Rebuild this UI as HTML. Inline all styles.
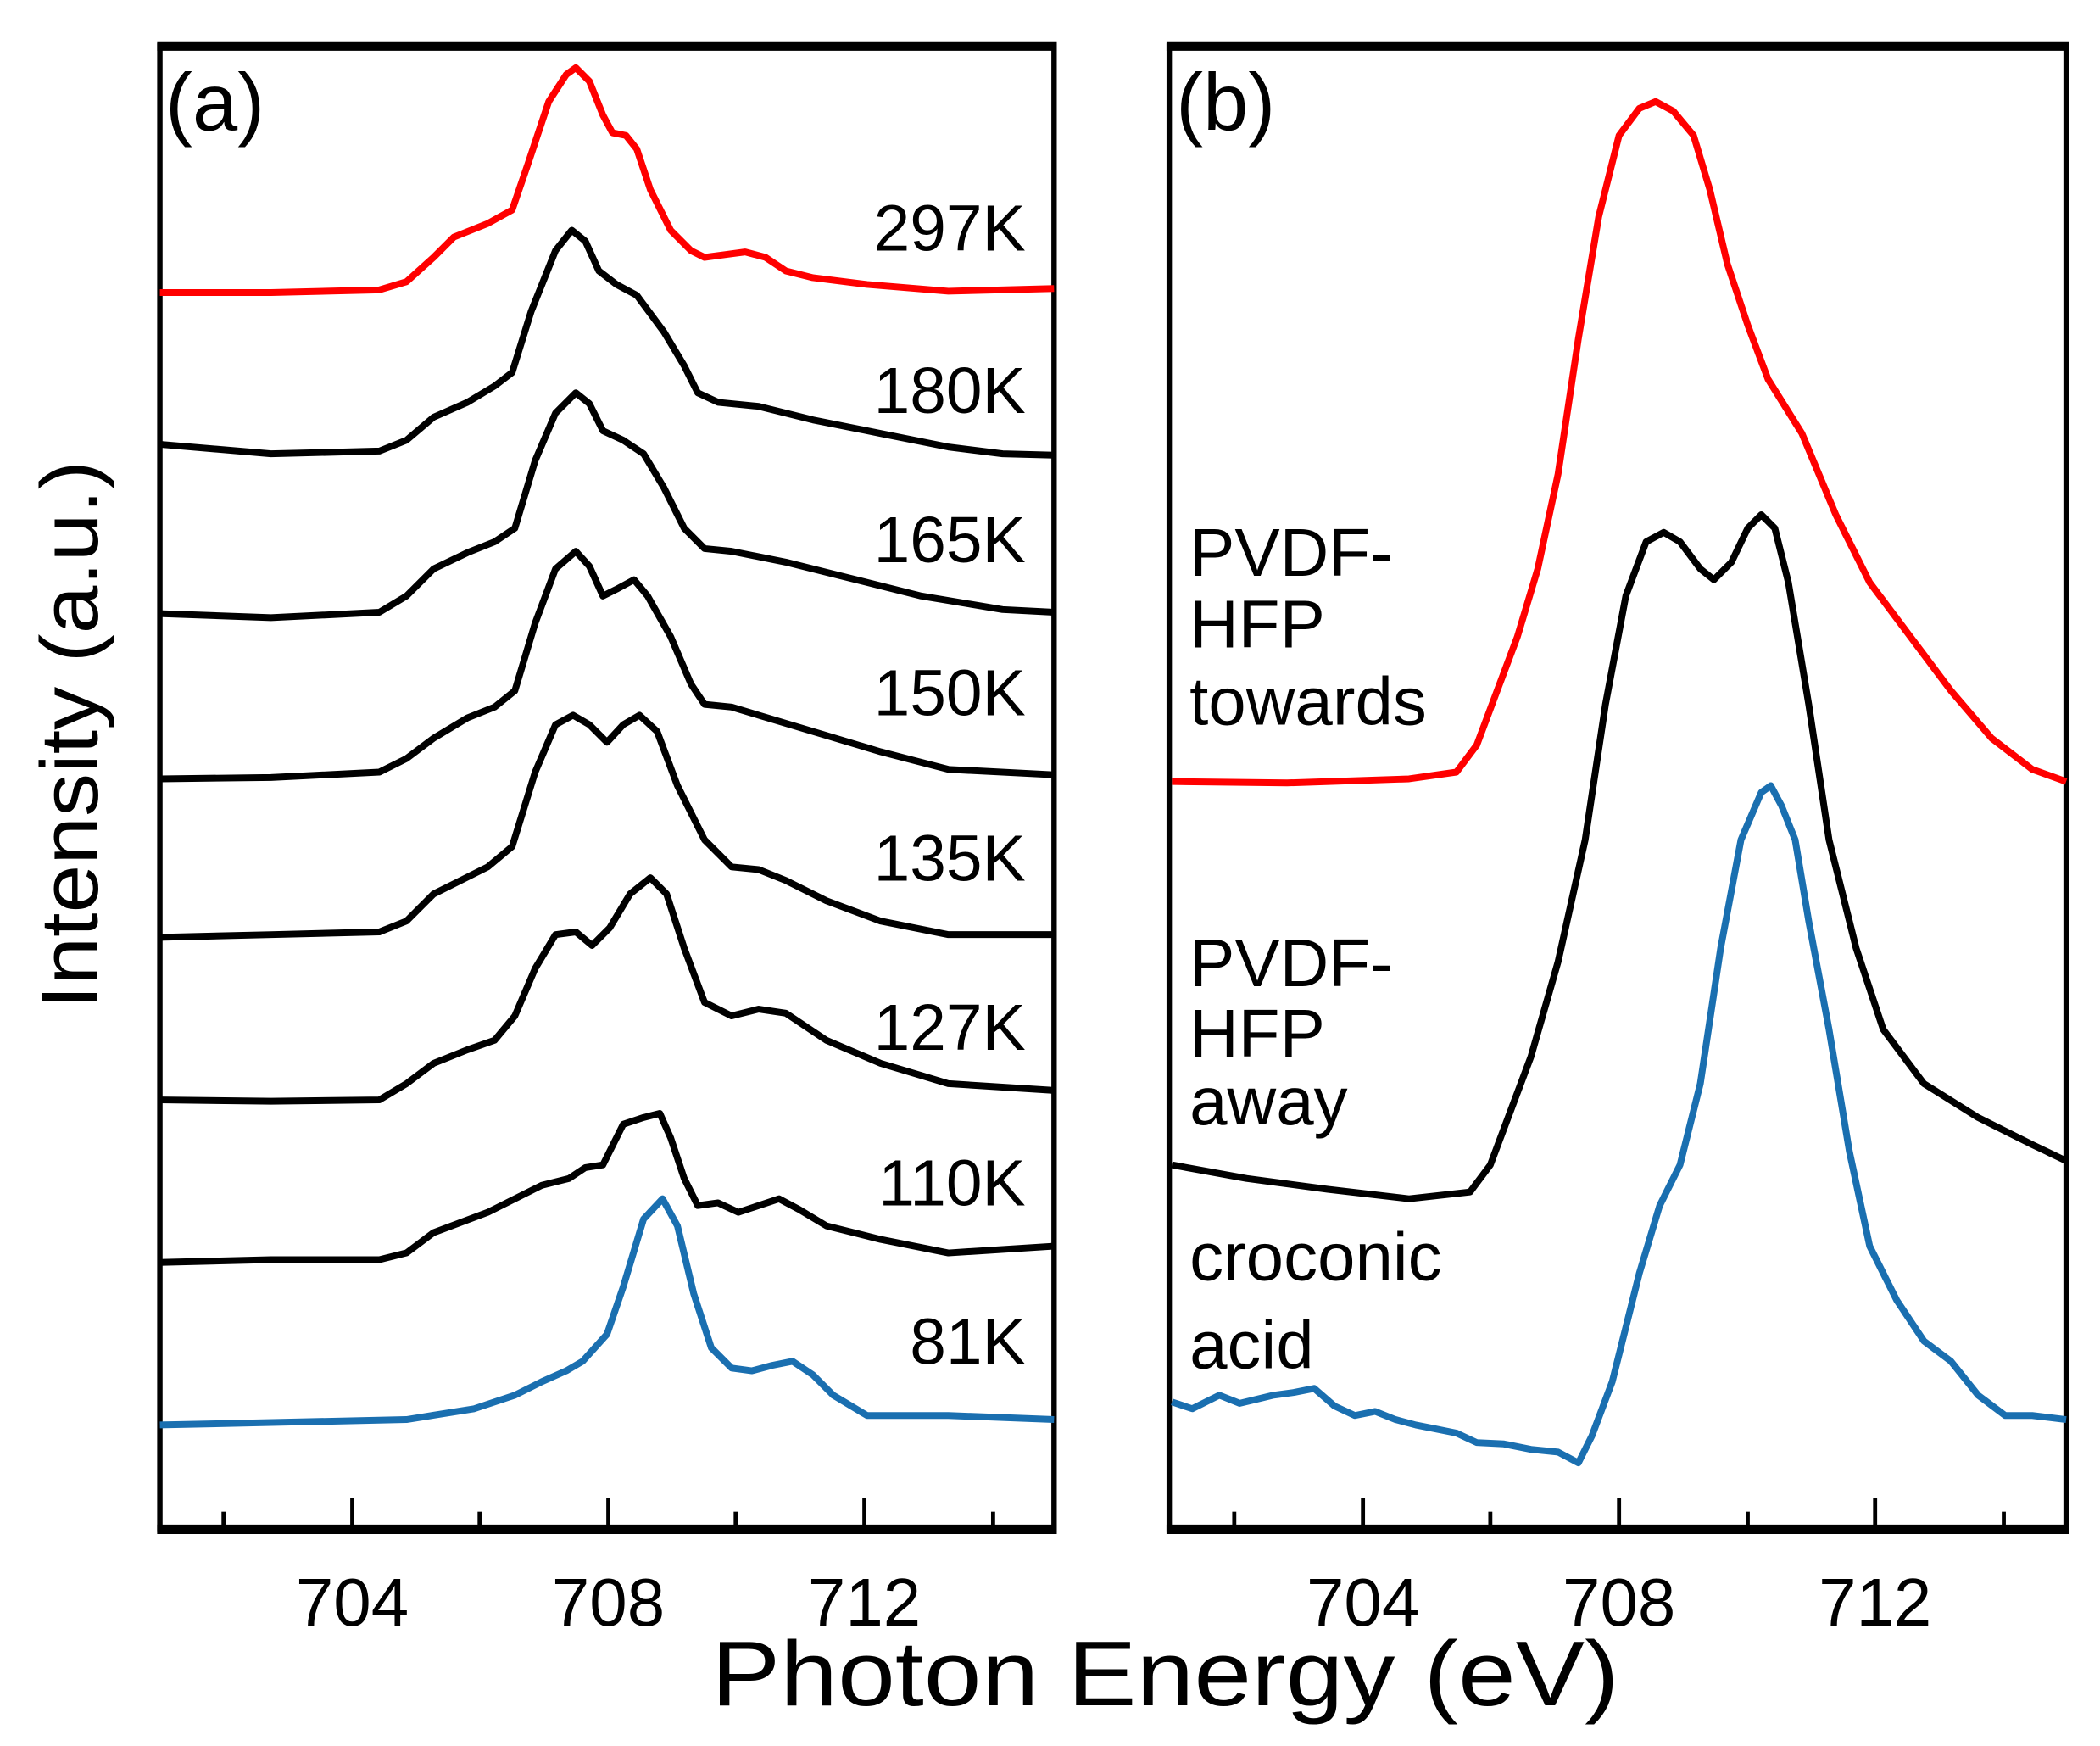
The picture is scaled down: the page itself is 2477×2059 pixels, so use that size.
<!DOCTYPE html>
<html><head><meta charset="utf-8"><style>
html,body{margin:0;padding:0;background:#fff}
svg{display:block}
text{font-family:"Liberation Sans",Arial,sans-serif;fill:#000}
</style></head><body>
<svg width="2477" height="2059" viewBox="0 0 1550 1289" preserveAspectRatio="none" xmlns="http://www.w3.org/2000/svg">
<g fill="none" stroke="#000" stroke-width="4">
<rect x="118" y="34" width="660" height="1095"/>
<rect x="863" y="34" width="662" height="1095"/>
</g>
<g stroke="#000" stroke-width="7">
<line x1="116" y1="34" x2="780" y2="34"/><line x1="116" y1="1129" x2="780" y2="1129"/>
<line x1="861" y1="34" x2="1527" y2="34"/><line x1="861" y1="1129" x2="1527" y2="1129"/>
</g>
<g stroke="#000" stroke-width="3">
<line x1="260" y1="1129" x2="260" y2="1106"/><line x1="449" y1="1129" x2="449" y2="1106"/><line x1="638" y1="1129" x2="638" y2="1106"/>
<line x1="165" y1="1129" x2="165" y2="1116"/><line x1="354" y1="1129" x2="354" y2="1116"/><line x1="543" y1="1129" x2="543" y2="1116"/><line x1="733" y1="1129" x2="733" y2="1116"/>
<line x1="1006" y1="1129" x2="1006" y2="1106"/><line x1="1195" y1="1129" x2="1195" y2="1106"/><line x1="1384" y1="1129" x2="1384" y2="1106"/>
<line x1="911" y1="1129" x2="911" y2="1116"/><line x1="1100" y1="1129" x2="1100" y2="1116"/><line x1="1290" y1="1129" x2="1290" y2="1116"/><line x1="1479" y1="1129" x2="1479" y2="1116"/>
</g>
<g font-size="50" text-anchor="middle">
<text x="260" y="1200">704</text><text x="449" y="1200">708</text><text x="638" y="1200">712</text>
<text x="1006" y="1200">704</text><text x="1195" y="1200">708</text><text x="1384" y="1200">712</text>
</g>
<text x="525" y="1259" font-size="68" textLength="670" lengthAdjust="spacingAndGlyphs">Photon Energy (eV)</text>
<text transform="translate(72,745) rotate(-90)" font-size="60" textLength="405" lengthAdjust="spacingAndGlyphs">Intensity (a.u.)</text>
<text x="122" y="96" font-size="60">(a)</text>
<text x="868" y="96" font-size="60">(b)</text>
<g font-size="48" text-anchor="end">
<text x="757" y="185">297K</text><text x="757" y="305">180K</text><text x="757" y="415">165K</text><text x="757" y="528">150K</text>
<text x="757" y="650">135K</text><text x="757" y="775">127K</text><text x="757" y="890">110K</text><text x="757" y="1007">81K</text>
</g>
<g font-size="50">
<text x="878" y="425">PVDF-</text><text x="878" y="478">HFP</text><text x="878" y="535">towards</text>
<text x="878" y="728">PVDF-</text><text x="878" y="780">HFP</text><text x="878" y="830">away</text>
<text x="878" y="945">croconic</text><text x="878" y="1010">acid</text>
</g>
<g fill="none" stroke-width="5" stroke-linejoin="round">
<polyline stroke="#ff0000" points="118,216 200,216 280,214 300,208 320,190 335,175 360,165 378,155 390,120 405,75 418,55 425,50 435,60 445,85 452,98 462,100 470,110 480,140 495,170 510,185 520,190 535,188 550,186 565,190 580,200 600,205 640,210 700,215 778,213"/>
<polyline stroke="#000" points="118,328 200,335 280,333 300,325 320,308 345,297 365,285 378,275 392,230 410,185 422,170 432,178 442,200 455,210 470,218 490,245 505,270 515,290 530,297 560,300 600,310 650,320 700,330 740,335 778,336"/>
<polyline stroke="#000" points="118,453 200,456 280,452 300,440 320,420 345,408 365,400 380,390 395,340 410,305 425,290 435,298 445,318 460,325 475,335 490,360 505,390 520,405 540,407 580,415 620,425 680,440 740,450 778,452"/>
<polyline stroke="#000" points="118,575 200,574 280,570 300,560 320,545 345,530 365,522 380,510 395,460 410,420 425,407 435,418 445,440 455,435 468,428 478,440 495,470 510,505 520,520 540,522 560,528 600,540 650,555 700,568 778,572"/>
<polyline stroke="#000" points="118,692 200,690 280,688 300,680 320,660 340,650 360,640 378,625 395,570 410,535 423,528 435,535 448,548 460,535 472,528 485,540 500,580 520,620 540,640 560,642 580,650 610,665 650,680 700,690 778,690"/>
<polyline stroke="#000" points="118,812 200,813 280,812 300,800 320,785 345,775 365,768 380,750 395,715 410,690 425,688 437,698 450,685 465,660 480,648 492,660 505,700 520,740 540,750 560,745 580,748 610,768 650,785 700,800 778,805"/>
<polyline stroke="#000" points="118,932 200,930 280,930 300,925 320,910 360,895 380,885 400,875 420,870 432,862 445,860 460,830 475,825 487,822 495,840 505,870 515,890 530,888 545,895 560,890 575,885 590,893 610,905 650,915 700,925 778,920"/>
<polyline stroke="#1a6fb0" points="118,1052 300,1048 350,1040 380,1030 400,1020 418,1012 430,1005 448,985 460,950 475,900 489,885 500,905 512,955 525,995 540,1010 555,1012 570,1008 585,1005 600,1015 615,1030 640,1045 700,1045 778,1048"/>
<polyline stroke="#ff0000" points="865,577 950,578 1040,575 1075,570 1090,550 1105,510 1120,470 1135,420 1150,350 1165,250 1180,160 1195,100 1210,80 1222,75 1235,82 1250,100 1262,140 1275,195 1290,240 1305,280 1330,320 1355,380 1380,430 1410,470 1440,510 1470,545 1500,568 1525,577"/>
<polyline stroke="#000" points="865,860 920,870 980,878 1040,885 1085,880 1100,860 1115,820 1130,780 1150,710 1170,620 1185,520 1200,440 1215,400 1228,393 1240,400 1255,420 1265,428 1278,415 1290,390 1300,380 1310,390 1320,430 1335,520 1350,620 1370,700 1390,760 1420,800 1460,825 1500,845 1525,857"/>
<polyline stroke="#1a6fb0" points="865,1035 880,1040 900,1030 915,1036 940,1030 955,1028 970,1025 985,1038 1000,1045 1015,1042 1030,1048 1045,1052 1060,1055 1075,1058 1090,1065 1110,1066 1130,1070 1150,1072 1165,1080 1175,1060 1190,1020 1210,940 1225,890 1240,860 1255,800 1270,700 1285,620 1300,585 1307,580 1315,595 1325,620 1335,680 1350,760 1365,850 1380,920 1400,960 1420,990 1440,1005 1460,1030 1480,1045 1500,1045 1525,1048"/>
</g>
</svg>
</body></html>
